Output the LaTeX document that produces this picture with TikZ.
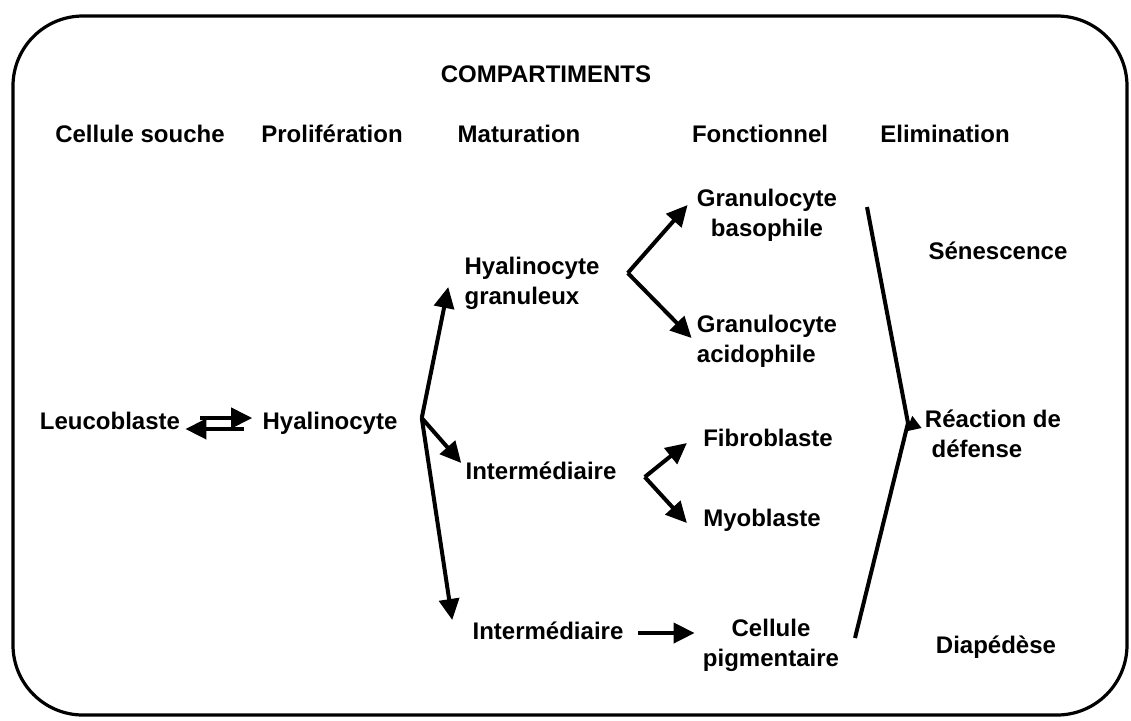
\documentclass[tikz,border=0pt]{standalone}
\usepackage{fontspec}
\setmainfont{Liberation Sans}
\usetikzlibrary{arrows.meta}
\begin{document}
\begin{tikzpicture}[x=0.5pt,y=-0.5pt,
    lbl/.style={font=\fontsize{12pt}{15pt}\selectfont\bfseries, inner sep=0pt, text height=9pt, text depth=2.5pt},
    lbltwo/.style={font=\fontsize{12pt}{15pt}\selectfont\bfseries, inner sep=0pt},
    arr/.style={line width=2pt, -{Triangle[length=10.5pt,width=10pt]}}]
    \useasboundingbox (0,0) rectangle (1131,720);
    \draw[line width=1.6pt, rounded corners=35pt] (13,16) rectangle (1127,715);
    \node[lbl] (title) at (546,76) {COMPARTIMENTS};
    \node[lbl] (cs)  at (140,136) {Cellule souche};
    \node[lbl] (pro) at (332,136) {Prolifération};
    \node[lbl] (mat) at (519,136) {Maturation};
    \node[lbl] (fon) at (760,136) {Fonctionnel};
    \node[lbl] (eli) at (945,136) {Elimination};
    \node[lbltwo, align=center] (gbas) at (767,215) {Granulocyte\\basophile};
    \node[lbl] (sen) at (998,253) {Sénescence};
    \node[lbltwo, align=left] (hgran) at (532,283) {Hyalinocyte\\granuleux};
    \node[lbltwo, align=left] (gaci) at (767,341) {Granulocyte\\acidophile};
    \node[lbl] (leu) at (110,423) {Leucoblaste};
    \node[lbl] (hya) at (330,423) {Hyalinocyte};
    \node[lbltwo, align=left] (rea) at (993,434) {Réaction de\\\hspace*{3.3pt}défense};
    \node[lbl] (fib) at (768,440) {Fibroblaste};
    \node[lbl] (im1) at (541,473) {Intermédiaire};
    \node[lbl] (myo) at (762,520) {Myoblaste};
    \node[lbl] (im2) at (548,633) {Intermédiaire};
    \node[lbltwo, align=center] (cpig) at (771,645) {Cellule\\pigmentaire};
    \node[lbl] (dia) at (996,647) {Diapédèse};
    \draw[arr] ([xshift=10pt,yshift=2.5pt]leu.east) -- ([xshift=-5pt,yshift=2.5pt]hya.west);
    \draw[arr] ([xshift=-9pt,yshift=-3pt]hya.west) -- ([xshift=2.5pt,yshift=-3pt]leu.east);
    \coordinate (hfork) at ([xshift=12pt,yshift=2.5pt]hya.east);
    \coordinate (gfork) at ([xshift=14pt,yshift=5pt]hgran.east);
    \coordinate (ifork) at ([xshift=14pt,yshift=-2pt]im1.east);
    \draw[arr] (hfork) -- ([xshift=-8pt,yshift=-2pt]hgran.west);
    \draw[arr] (hfork) -- ([xshift=-2pt,yshift=5pt]im1.west);
    \draw[arr] (hfork) -- ([xshift=-10pt,yshift=6.5pt]im2.west);
    \draw[arr] (gfork) -- ([xshift=-4.5pt,yshift=5pt]gbas.west);
    \draw[arr] (gfork) -- ([xshift=-2.5pt,yshift=1.5pt]gaci.west);
    \draw[arr] (ifork) -- ([xshift=-8pt,yshift=-1.5pt]fib.west);
    \draw[arr] (ifork) -- ([xshift=-8pt,yshift=-1.5pt]myo.west);
    \draw[arr] ([xshift=7pt]im2.east) -- ([xshift=-4pt,yshift=6pt]cpig.west);
    \coordinate (vtop) at (867,207);
    \coordinate (vmid) at (908,423);
    \coordinate (vbot) at (855,638);
    \draw[line width=2pt] (vtop) -- (vmid) -- (vbot);
    \draw[line width=1pt, -{Triangle[length=6.5pt,width=8pt]}] (vmid) -- ([xshift=-1.5pt,yshift=3pt]rea.west);
\end{tikzpicture}
\end{document}
